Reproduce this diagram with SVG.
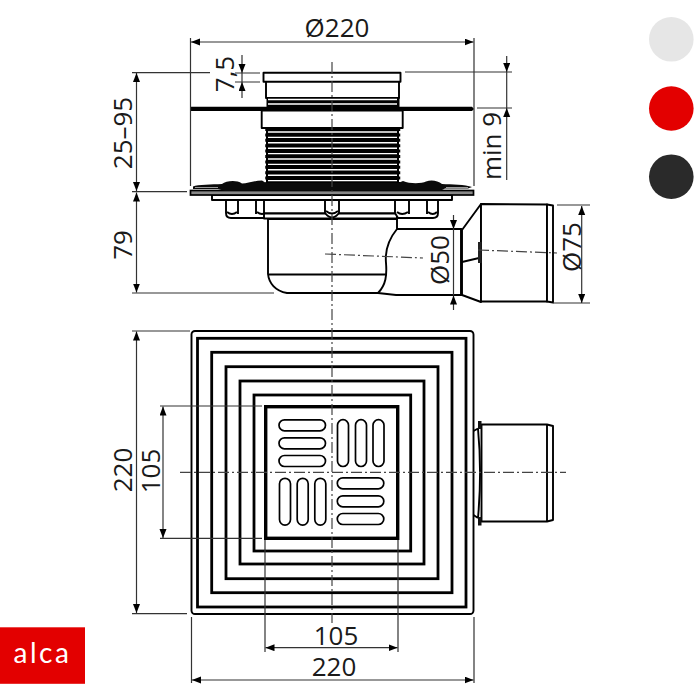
<svg xmlns="http://www.w3.org/2000/svg" width="700" height="700" viewBox="0 0 700 700">
<style>
.t{font-family:"Open Sans","Noto Sans",sans-serif;font-size:26px;fill:#1a1a1a;text-anchor:middle}
.d{fill:none;stroke:#333;stroke-width:1.2}
.a{fill:none;stroke:#333;stroke-width:1.2;marker-end:url(#arr)}
.c{fill:none;stroke:#444;stroke-width:1.2;stroke-dasharray:11 3 2 3}
.o{fill:#fff;stroke:#000;stroke-width:1.9;stroke-linejoin:round}
.n{fill:none;stroke:#000;stroke-width:1.9}
.sq{fill:none;stroke:#000;stroke-width:2.8}
.s{fill:#fff;stroke:#000;stroke-width:1.7}
.w{stroke:#fff;stroke-width:1.4}
</style>
<defs>
<marker id="arr" markerUnits="userSpaceOnUse" markerWidth="10" markerHeight="8" refX="9" refY="3.5" orient="auto"><path d="M0 0L9 3.5L0 7Z" fill="#000"/></marker>
<g id="hs"><rect x="0" y="-5.5" width="46.500" height="11" rx="5.500" class="s"/></g>
<g id="vs"><rect x="-5.500" y="0" width="11" height="46.800" rx="5.500" class="s"/></g>
</defs>
<rect width="700" height="700" fill="#fff"/>

<g id="section">
<path class="n" d="M397 229H461V295H396L378 293"/>
<path class="o" d="M268 219V274C269 283 275 291 287 293H378C386 285 387 275 386 263C385 252 388 240 397 229V219Z"/>
<path class="n" d="M269 274.500H386"/>
<path class="o" d="M462 230L481 204V302L462 295Z"/>
<path class="n" d="M462 262L479 258"/>
<path class="o" d="M481 204L547 204.500V301.500L481 301.500Z"/>
<path class="o" d="M547 204.500L553 205.500V302.500L547 301.500Z"/>
<rect x="478" y="242" width="3.500" height="21" fill="#222"/>
<path class="o" d="M226 200V213Q226 218 231 218H264L268 213V200Z"/>
<path class="n" d="M238 200V214M256 200V214M227 212Q232 216 237 212M257 212Q262 216 267 212"/>
<rect x="264" y="200" width="133" height="13.500" class="o"/>
<rect x="264" y="213.500" width="133" height="5" class="o"/>
<path class="o" d="M325 200V213Q332 222 339 213V200Z" stroke-width="2.400"/>
<path class="n" d="M326 211Q332 216 338 211"/>
<path class="o" d="M395 200V213L398 218H433Q438 218 438 213V200Z"/>
<path class="n" d="M409 200V214M427 200V214M397 212Q402 216 408 212M428 212Q433 216 437 212"/>
<rect x="212" y="195" width="240" height="5" class="o"/>
<rect x="190.500" y="190.500" width="283" height="4.500" fill="#888" stroke="#000" stroke-width="1.700"/>
<path d="M193 186.500C198 184.500 212 184.500 222 184C226 181 236 179.500 242 183.500C248 183.500 254 180.500 262 180.500L266 183H398L403 181C410 184 422 183.500 426 181.500C432 179.500 438 181 442 184C452 184.500 465 184.500 472 187L468 188.500H445L440 191H225L218 189H193Z" fill="#0a0a0a"/>
<path d="M195 187.500H218M446 187.500H468" stroke="#999" stroke-width="1" fill="none"/>
<rect x="266" y="128" width="133" height="55" fill="#000"/>
<g class="w">
<path d="M268 132H397M268 137.400H397M268 142.800H397M268 148.200H397M268 153.600H397M268 159H397M268 164.400H397M268 169.800H397M268 175.200H397M268 180.600H397"/>
</g>
<path d="M266.500 128V183M399 128V183" stroke="#000" stroke-width="2.500" stroke-dasharray="3 2.400" fill="none"/>
<rect x="266" y="81" width="133" height="17" class="o"/>
<rect x="266.500" y="97" width="133" height="10.500" fill="#000"/>
<path class="w" d="M268 99.500H397M268 104H397"/>
<rect x="263.500" y="72.800" width="137" height="9" class="o" stroke-width="2.200"/>
<path d="M190 106.800H472L474 109L472 111H190Z" fill="#000"/>
<rect x="261.700" y="110.500" width="141" height="17.500" class="o" stroke-width="2.200"/>
<path class="c" d="M325 254L423 258M478 250L557 253"/>
</g>

<g id="plan">
<rect x="191.500" y="331" width="282" height="283" rx="3.500" class="o" stroke-width="1.600"/>
<rect x="197.500" y="338.300" width="268.500" height="268.700" class="sq"/>
<rect x="211.700" y="352.300" width="240.300" height="240.400" class="sq"/>
<rect x="226" y="366.700" width="212" height="212" class="sq"/>
<rect x="240" y="381" width="184" height="183" class="sq"/>
<rect x="254" y="395" width="156.700" height="156" class="sq"/>
<rect x="265.700" y="406.700" width="132" height="131.600" fill="#fff" stroke="#000" stroke-width="3.400"/>
<g id="slots">
<use href="#hs" x="279" y="425.300"/><use href="#hs" x="279" y="443.300"/><use href="#hs" x="279" y="461"/>
<use href="#vs" x="343" y="419.700"/><use href="#vs" x="361" y="419.700"/><use href="#vs" x="378.500" y="419.700"/>
<use href="#vs" x="285" y="478.300"/><use href="#vs" x="302.700" y="478.300"/><use href="#vs" x="320.300" y="478.300"/>
<use href="#hs" x="337.300" y="483.300"/><use href="#hs" x="337.300" y="501.300"/><use href="#hs" x="337.300" y="519"/>
</g>
<path class="n" d="M473.500 431L478 428.500M473.500 515L478 518M478 428.500C480.500 455 480.500 490 478 518"/>
<path class="o" d="M481.500 424.500H547L553 426V520L547 521.500H481.500Z"/>
<path class="n" d="M547 424.500V521.500"/>
<rect x="478" y="421" width="3.500" height="8" fill="#111"/>
<rect x="478" y="517" width="3.500" height="8.500" fill="#111"/>
</g>

<g id="dimensions">
<path class="c" d="M332 62V623"/>
<path class="c" d="M180 472.300H566"/>
<path class="d" d="M190.500 38V186M474 38V186"/>
<path class="a" d="M332 42H191"/><path class="a" d="M332 42H473.500"/>
<path class="d" d="M132 72.700H210M132 191.700H187M132 293H274"/>
<path class="a" d="M136.500 133V73"/><path class="a" d="M136.500 133V191"/>
<path class="a" d="M136.500 240V192.500"/><path class="a" d="M136.500 240V292.500"/>
<path class="d" d="M235 73H260M235 82H260"/>
<path class="a" d="M242 55V73"/><path class="a" d="M242 98V82"/><path class="d" d="M242 73V82"/>
<path class="d" d="M405 72H512M477 108H512"/>
<path class="a" d="M506.700 56V72"/><path class="a" d="M506.700 180V108"/><path class="d" d="M506.700 72V108"/>
<path class="a" d="M453.500 215V229"/><path class="a" d="M453.500 310V295.500"/><path class="d" d="M453.500 229V295"/>
<path class="d" d="M557 205H590M553 303H590"/>
<path class="a" d="M581.700 254V206"/><path class="a" d="M581.700 254V303"/>
<path class="d" d="M132 331H190M132 613.700H187M160 406H262M160 538.300H262"/>
<path class="a" d="M136.500 470V331.500"/><path class="a" d="M136.500 470V613"/>
<path class="a" d="M163 470V406.500"/><path class="a" d="M163 470V538"/>
<path class="d" d="M265 540V652M398 540V652M191.500 617V683M474 617V683"/>
<path class="a" d="M332 647.700H265.500"/><path class="a" d="M332 647.700H397.500"/>
<path class="a" d="M332 680H192"/><path class="a" d="M332 680H473.500"/>
</g>

<g id="labels">
<text class="t" x="337" y="37">Ø220</text>
<text class="t" x="336" y="645">105</text>
<text class="t" x="334" y="675.700">220</text>
<text class="t" transform="translate(132 133) rotate(-90)">25–95</text>
<text class="t" transform="translate(132 245) rotate(-90)">79</text>
<text class="t" transform="translate(233.500 74) rotate(-90)">7,5</text>
<text class="t" transform="translate(500.500 146) rotate(-90)">min 9</text>
<text class="t" transform="translate(449 260) rotate(-90)">Ø50</text>
<text class="t" transform="translate(581 247) rotate(-90)">Ø75</text>
<text class="t" transform="translate(132 470) rotate(-90)">220</text>
<text class="t" transform="translate(160 471) rotate(-90)">105</text>
</g>

<g id="swatches">
<circle cx="671.300" cy="39.300" r="22.300" fill="#e6e6e6"/>
<circle cx="671.300" cy="108.500" r="22.300" fill="#e30000"/>
<circle cx="671.300" cy="176.700" r="22.300" fill="#2a2a2a"/>
</g>

<g id="logo">
<rect x="0" y="627.300" width="85" height="56.500" fill="#e30000"/>
<text x="42.500" y="662.500" font-family="Lato,sans-serif" font-size="28" fill="#fff" text-anchor="middle" letter-spacing="2.500">alca</text>
</g>
</svg>
